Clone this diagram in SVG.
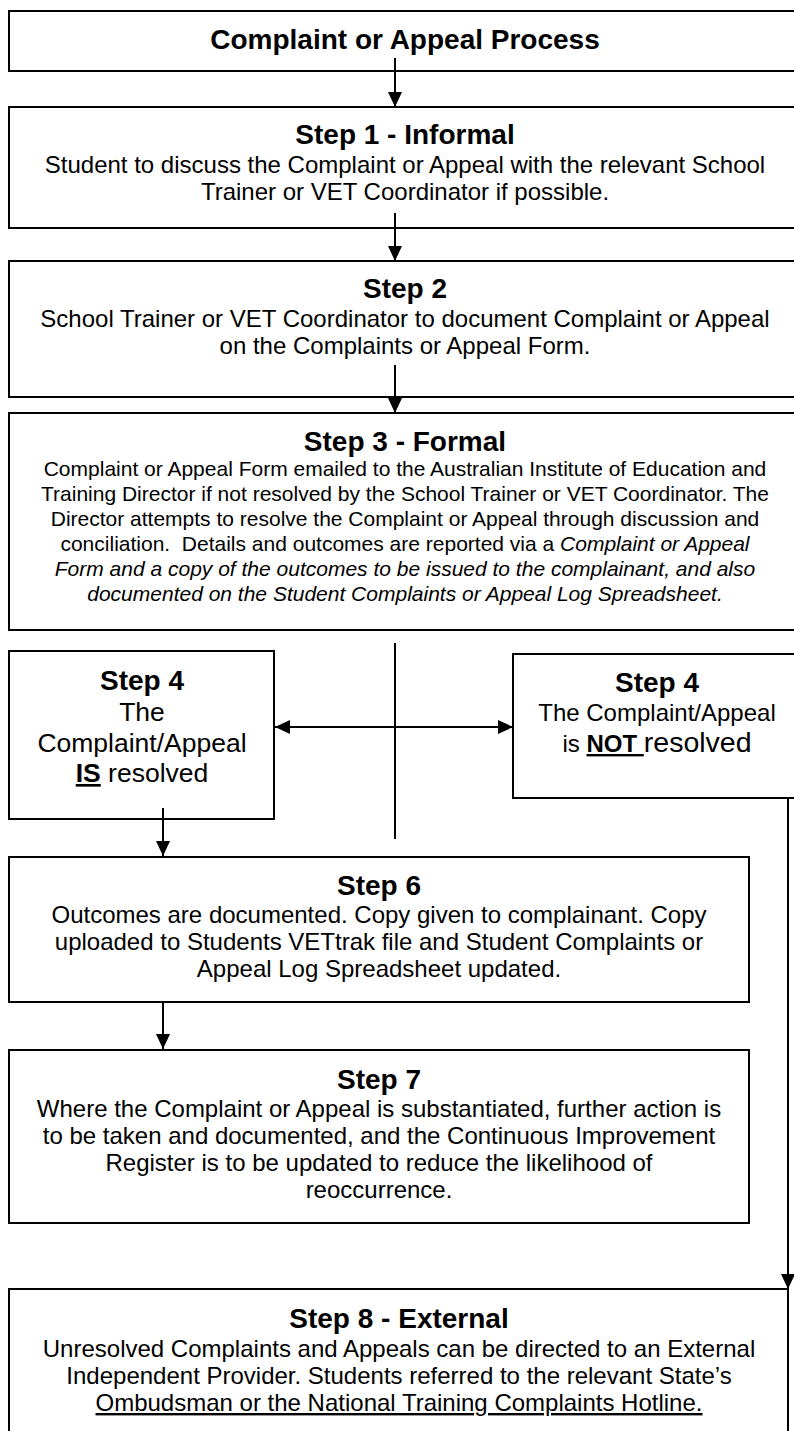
<svg xmlns="http://www.w3.org/2000/svg" width="794" height="1431" viewBox="0 0 794 1431">
<style>
.box{fill:#fff;stroke:#000;stroke-width:2}
text{font-family:"Liberation Sans",Arial,sans-serif;fill:#000;text-anchor:middle}
.t{font-weight:bold;font-size:28px}
.b{font-size:24px}
.s{font-size:21px}
.m{font-size:26.5px}
.c{stroke:#000;stroke-width:2;fill:none}
.i{font-style:italic}
.u{text-decoration:underline}
</style>
<defs>
<marker id="ah" markerUnits="userSpaceOnUse" markerWidth="16" markerHeight="14" refX="15" refY="7" orient="auto-start-reverse">
<path d="M0,0 L15,7 L0,14 z" fill="#000"/>
</marker>
</defs>
<rect width="794" height="1431" fill="#fff"/>
<g id="title">
<rect class="box" x="9" y="11" width="792" height="60"/>
<text class="t" x="405" y="49">Complaint or Appeal Process</text>
</g>
<g id="step1">
<rect class="box" x="9" y="107" width="792" height="121"/>
<text class="t" x="405" y="144">Step 1 - Informal</text>
<text class="b" x="405" y="173">Student to discuss the Complaint or Appeal with the relevant School</text>
<text class="b" x="405" y="200">Trainer or VET Coordinator if possible.</text>
</g>
<g id="step2">
<rect class="box" x="9" y="261" width="792" height="136"/>
<text class="t" x="405" y="298">Step 2</text>
<text class="b" x="405" y="327">School Trainer or VET Coordinator to document Complaint or Appeal</text>
<text class="b" x="405" y="354">on the Complaints or Appeal Form.</text>
</g>
<g id="step3">
<rect class="box" x="9" y="413" width="792" height="217"/>
<text class="t" x="405" y="451">Step 3 - Formal</text>
<text class="s" x="405" y="476">Complaint or Appeal Form emailed to the Australian Institute of Education and</text>
<text class="s" x="405" y="501">Training Director if not resolved by the School Trainer or VET Coordinator. The</text>
<text class="s" x="405" y="526">Director attempts to resolve the Complaint or Appeal through discussion and</text>
<text class="s" x="405" y="551" xml:space="preserve">conciliation.  Details and outcomes are reported via a <tspan class="i">Complaint or Appeal</tspan></text>
<text class="s i" x="405" y="576">Form and a copy of the outcomes to be issued to the complainant, and also</text>
<text class="s i" x="405" y="601">documented on the Student Complaints or Appeal Log Spreadsheet.</text>
</g>
<g id="step4-yes">
<rect class="box" x="9" y="651" width="265" height="168"/>
<text class="t" x="142" y="690">Step 4</text>
<text class="m" x="142" y="721">The</text>
<text class="m" x="142" y="752">Complaint/Appeal</text>
<text class="m" x="142" y="782"><tspan class="u" font-weight="bold">IS</tspan> resolved</text>
</g>
<g id="step4-no">
<rect class="box" x="513" y="654" width="290" height="144"/>
<text class="t" x="657" y="692">Step 4</text>
<text class="b" x="657" y="721">The Complaint/Appeal</text>
<text class="b" x="657" y="752" xml:space="preserve">is <tspan class="u" font-weight="bold">NOT </tspan><tspan font-size="28.5px">resolved</tspan></text>
</g>
<g id="step6">
<rect class="box" x="9" y="857" width="740" height="145"/>
<text class="t" x="379" y="895">Step 6</text>
<text class="b" x="379" y="923">Outcomes are documented. Copy given to complainant. Copy</text>
<text class="b" x="379" y="950">uploaded to Students VETtrak file and Student Complaints or</text>
<text class="b" x="379" y="977">Appeal Log Spreadsheet updated.</text>
</g>
<g id="step7">
<rect class="box" x="9" y="1050" width="740" height="173"/>
<text class="t" x="379" y="1089">Step 7</text>
<text class="b" x="379" y="1117">Where the Complaint or Appeal is substantiated, further action is</text>
<text class="b" x="379" y="1144">to be taken and documented, and the Continuous Improvement</text>
<text class="b" x="379" y="1171">Register is to be updated to reduce the likelihood of</text>
<text class="b" x="379" y="1198">reoccurrence.</text>
</g>
<g id="step8">
<rect class="box" x="9" y="1289" width="779" height="160"/>
<text class="t" x="399" y="1328">Step 8 - External</text>
<text class="b" x="399" y="1357">Unresolved Complaints and Appeals can be directed to an External</text>
<text class="b" x="399" y="1384">Independent Provider. Students referred to the relevant State’s</text>
<text class="b u" x="399" y="1411">Ombudsman or the National Training Complaints Hotline.</text>
</g>
<g id="connectors">
<line class="c" x1="395" y1="58" x2="395" y2="107" marker-end="url(#ah)"/>
<line class="c" x1="395" y1="213" x2="395" y2="261" marker-end="url(#ah)"/>
<line class="c" x1="395" y1="365" x2="395" y2="413" marker-end="url(#ah)"/>
<line class="c" x1="395" y1="643" x2="395" y2="839"/>
<line class="c" x1="275" y1="727" x2="513" y2="727" marker-start="url(#ah)" marker-end="url(#ah)"/>
<line class="c" x1="163" y1="808" x2="163" y2="856" marker-end="url(#ah)"/>
<line class="c" x1="163" y1="1002" x2="163" y2="1049" marker-end="url(#ah)"/>
<line class="c" x1="788" y1="798" x2="788" y2="1289" marker-end="url(#ah)"/>
</g>
</svg>
